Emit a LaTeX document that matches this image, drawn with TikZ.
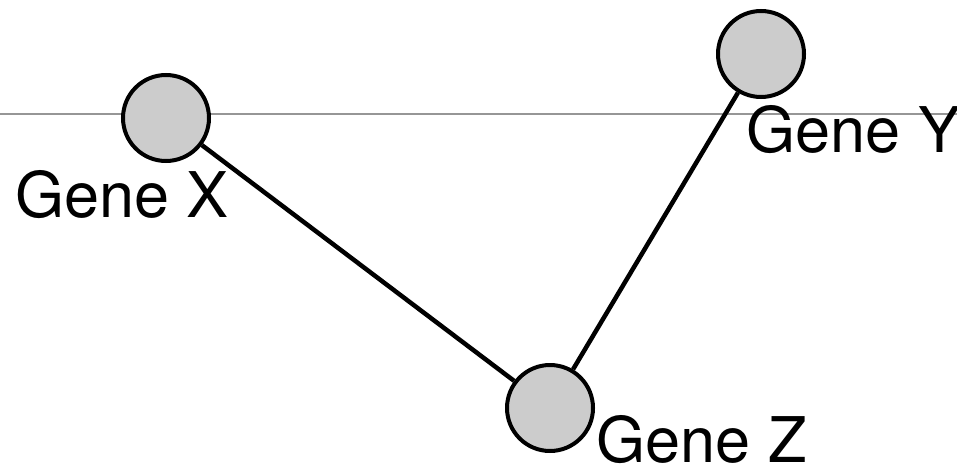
\documentclass[tikz,border=0pt]{standalone}
\usepackage{fontspec}
\setmainfont{TeX Gyre Heros}
\begin{document}
\begin{tikzpicture}[x=1pt,y=-1pt,
  gene/.style={circle,draw=black,line width=4pt,fill={rgb,255:red,204;green,204;blue,204},minimum size=86pt,inner sep=0pt},
  genelabel/.style={anchor=base west,inner sep=0pt,font=\fontsize{63}{63}\selectfont},
  edge/.style={draw=black,line width=4.5pt},
  axis/.style={draw={rgb,255:red,150;green,150;blue,150},line width=2pt}]
\useasboundingbox (0,0) rectangle (957,468);
\coordinate (l0) at (0,114);
\coordinate (l1) at (957,114);
\draw[axis] (l0) -- (l1);
\node[gene] (x) at (166,118) {};
\node[gene] (y) at (761,54) {};
\node[gene] (z) at (550,408) {};
\draw[edge] (x) -- (z);
\draw[edge] (z) -- (y);
\node[genelabel] (lx) at (15,217) {Gene X};
\node[genelabel] (ly) at (746.5,152) {Gene Y};
\node[genelabel] (lz) at (596.5,462) {Gene Z};
\end{tikzpicture}
\end{document}
